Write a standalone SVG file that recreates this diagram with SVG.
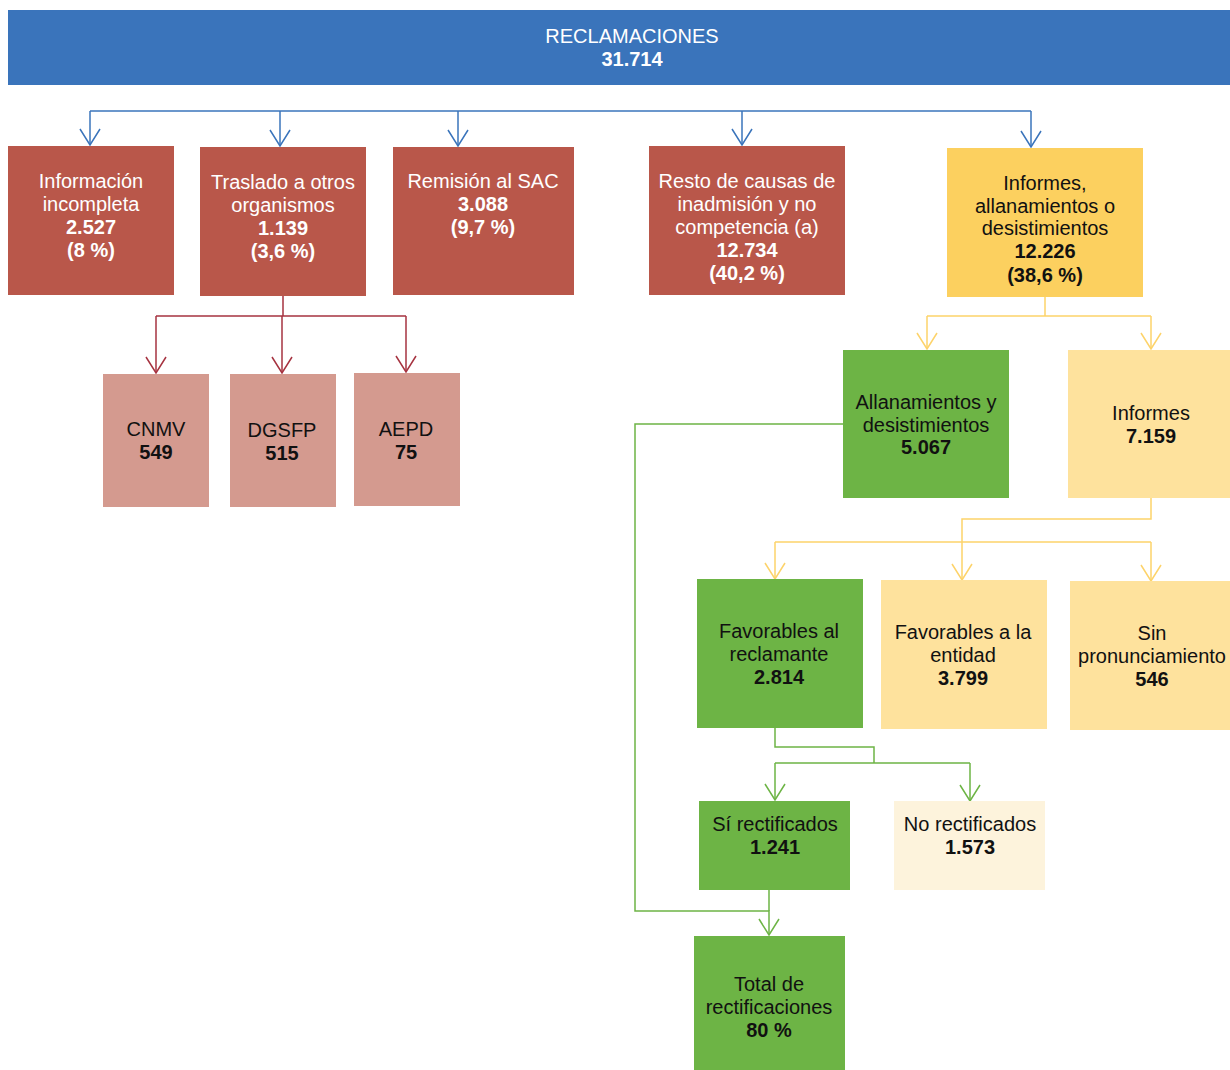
<svg xmlns="http://www.w3.org/2000/svg" width="1230" height="1070" viewBox="0 0 1230 1070">
<defs>
<style>
text{font-family:"Liberation Sans",Arial,sans-serif;font-size:20px;text-anchor:middle}
.w{fill:#ffffff}
.k{fill:#111111}
.b{font-weight:bold}
.red{fill:#b9574a}
.pink{fill:#d49a8f}
.yel{fill:#fcd05f}
.lyel{fill:#fee29d}
.grn{fill:#6db445}
.cream{fill:#fdf3dc}
.c{fill:none;stroke-width:1.5}
.cb{stroke:#3a74bb}
.cr{stroke:#a63340}
.cy{stroke:#fdd36a}
.cg{stroke:#6db445}
</style>
<marker id="ab" markerUnits="userSpaceOnUse" viewBox="0 0 18 22" refX="17" refY="11" markerWidth="18" markerHeight="22" orient="auto"><path d="M1,1 L17,11 L1,21" fill="none" stroke="#3a74bb" stroke-width="1.5"/></marker>
<marker id="ar" markerUnits="userSpaceOnUse" viewBox="0 0 18 22" refX="17" refY="11" markerWidth="18" markerHeight="22" orient="auto"><path d="M1,1 L17,11 L1,21" fill="none" stroke="#a63340" stroke-width="1.5"/></marker>
<marker id="ay" markerUnits="userSpaceOnUse" viewBox="0 0 18 22" refX="17" refY="11" markerWidth="18" markerHeight="22" orient="auto"><path d="M1,1 L17,11 L1,21" fill="none" stroke="#fdd36a" stroke-width="1.5"/></marker>
<marker id="ag" markerUnits="userSpaceOnUse" viewBox="0 0 18 22" refX="17" refY="11" markerWidth="18" markerHeight="22" orient="auto"><path d="M1,1 L17,11 L1,21" fill="none" stroke="#6db445" stroke-width="1.5"/></marker>
</defs>
<rect width="1230" height="1070" fill="#ffffff"/>

<g id="connectors">
<path class="c cb" d="M90,111 H1031"/>
<path class="c cb" d="M90,111 V145" marker-end="url(#ab)"/>
<path class="c cb" d="M280,111 V146" marker-end="url(#ab)"/>
<path class="c cb" d="M458,111 V146" marker-end="url(#ab)"/>
<path class="c cb" d="M742,111 V145" marker-end="url(#ab)"/>
<path class="c cb" d="M1031,111 V147" marker-end="url(#ab)"/>

<path class="c cr" d="M283,296 V316 M156,316 H406"/>
<path class="c cr" d="M156,316 V373" marker-end="url(#ar)"/>
<path class="c cr" d="M282,316 V373" marker-end="url(#ar)"/>
<path class="c cr" d="M406,316 V372" marker-end="url(#ar)"/>

<path class="c cy" d="M1045,297 V316 M927,316 H1151"/>
<path class="c cy" d="M927,316 V349" marker-end="url(#ay)"/>
<path class="c cy" d="M1151,316 V349" marker-end="url(#ay)"/>
<path class="c cy" d="M1151,498 V519 H962 V580" marker-end="url(#ay)"/>
<path class="c cy" d="M775,542 H1151"/>
<path class="c cy" d="M775,542 V579" marker-end="url(#ay)"/>
<path class="c cy" d="M1151,542 V581" marker-end="url(#ay)"/>

<path class="c cg" d="M775,728 V747 H874 V763 M775,763 H970"/>
<path class="c cg" d="M775,763 V800" marker-end="url(#ag)"/>
<path class="c cg" d="M970,763 V801" marker-end="url(#ag)"/>
<path class="c cg" d="M843,424 H635 V911 H769 V935" marker-end="url(#ag)"/>
<path class="c cg" d="M769,890 V911"/>
</g>

<g id="reclamaciones">
<rect x="8" y="10" width="1222" height="75" fill="#3a74bb"/>
<text class="w" x="632" y="43">RECLAMACIONES</text>
<text class="w b" x="632" y="66">31.714</text>
</g>

<g id="informacion">
<rect class="red" x="8" y="146" width="166" height="149"/>
<text class="w" x="91" y="188">Información</text>
<text class="w" x="91" y="211">incompleta</text>
<text class="w b" x="91" y="234">2.527</text>
<text class="w b" x="91" y="257">(8 %)</text>
</g>

<g id="traslado">
<rect class="red" x="200" y="147" width="166" height="149"/>
<text class="w" x="283" y="189">Traslado a otros</text>
<text class="w" x="283" y="212">organismos</text>
<text class="w b" x="283" y="235">1.139</text>
<text class="w b" x="283" y="258">(3,6 %)</text>
</g>

<g id="remision">
<rect class="red" x="393" y="147" width="181" height="148"/>
<text class="w" x="483" y="188">Remisión al SAC</text>
<text class="w b" x="483" y="211">3.088</text>
<text class="w b" x="483" y="234">(9,7 %)</text>
</g>

<g id="resto">
<rect class="red" x="649" y="146" width="196" height="149"/>
<text class="w" x="747" y="188">Resto de causas de</text>
<text class="w" x="747" y="211">inadmisión y no</text>
<text class="w" x="747" y="234">competencia (a)</text>
<text class="w b" x="747" y="257">12.734</text>
<text class="w b" x="747" y="280">(40,2 %)</text>
</g>

<g id="informes-allan">
<rect class="yel" x="947" y="148" width="196" height="149"/>
<text class="k" x="1045" y="190">Informes,</text>
<text class="k" x="1045" y="213">allanamientos o</text>
<text class="k" x="1045" y="235">desistimientos</text>
<text class="k b" x="1045" y="258">12.226</text>
<text class="k b" x="1045" y="282">(38,6 %)</text>
</g>

<g id="cnmv">
<rect class="pink" x="103" y="374" width="106" height="133"/>
<text class="k" x="156" y="436">CNMV</text>
<text class="k b" x="156" y="459">549</text>
</g>

<g id="dgsfp">
<rect class="pink" x="230" y="374" width="106" height="133"/>
<text class="k" x="282" y="437">DGSFP</text>
<text class="k b" x="282" y="460">515</text>
</g>

<g id="aepd">
<rect class="pink" x="354" y="373" width="106" height="133"/>
<text class="k" x="406" y="436">AEPD</text>
<text class="k b" x="406" y="459">75</text>
</g>

<g id="allanamientos">
<rect class="grn" x="843" y="350" width="166" height="148"/>
<text class="k" x="926" y="409">Allanamientos y</text>
<text class="k" x="926" y="432">desistimientos</text>
<text class="k b" x="926" y="454">5.067</text>
</g>

<g id="informes">
<rect class="lyel" x="1068" y="350" width="162" height="148"/>
<text class="k" x="1151" y="420">Informes</text>
<text class="k b" x="1151" y="443">7.159</text>
</g>

<g id="fav-reclamante">
<rect class="grn" x="697" y="579" width="166" height="149"/>
<text class="k" x="779" y="638">Favorables al</text>
<text class="k" x="779" y="661">reclamante</text>
<text class="k b" x="779" y="684">2.814</text>
</g>

<g id="fav-entidad">
<rect class="lyel" x="881" y="580" width="166" height="149"/>
<text class="k" x="963" y="639">Favorables a la</text>
<text class="k" x="963" y="662">entidad</text>
<text class="k b" x="963" y="685">3.799</text>
</g>

<g id="sin-pronunciamiento">
<rect class="lyel" x="1070" y="581" width="160" height="149"/>
<text class="k" x="1152" y="640">Sin</text>
<text class="k" x="1152" y="663">pronunciamiento</text>
<text class="k b" x="1152" y="686">546</text>
</g>

<g id="si-rectificados">
<rect class="grn" x="699" y="801" width="151" height="89"/>
<text class="k" x="775" y="831">Sí rectificados</text>
<text class="k b" x="775" y="854">1.241</text>
</g>

<g id="no-rectificados">
<rect class="cream" x="894" y="801" width="151" height="89"/>
<text class="k" x="970" y="831">No rectificados</text>
<text class="k b" x="970" y="854">1.573</text>
</g>

<g id="total">
<rect class="grn" x="694" y="936" width="151" height="134"/>
<text class="k" x="769" y="991">Total de</text>
<text class="k" x="769" y="1014">rectificaciones</text>
<text class="k b" x="769" y="1037">80 %</text>
</g>
</svg>
